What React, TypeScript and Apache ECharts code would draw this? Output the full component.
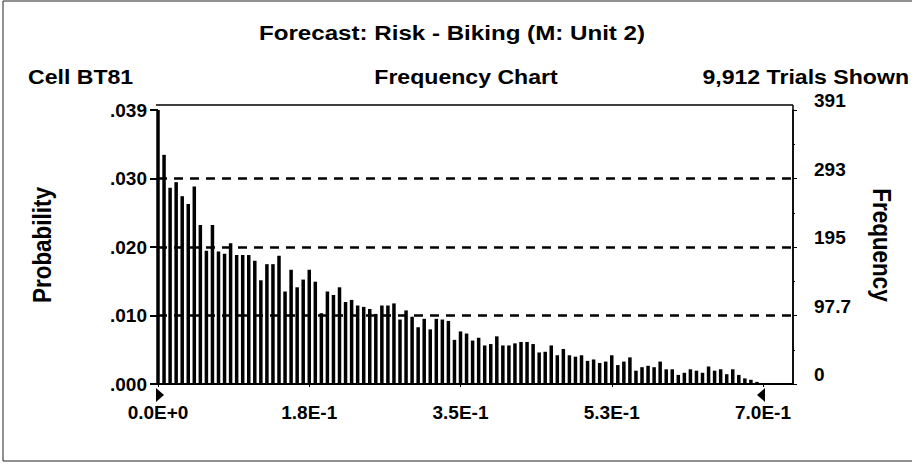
import React, { useEffect, useRef } from "react";
import * as echarts from "echarts";

// ---- data ----
const TITLE = "Forecast: Risk - Biking (M: Unit 2)";
const CELL = "Cell BT81";
const SUBTITLE = "Frequency Chart";
const TRIALS = "9,912 Trials Shown";
const LEFT_NAME = "Probability";
const RIGHT_NAME = "Frequency";

const BIN_WIDTH = 0.007; // width of each frequency bin
// frequency counts for the 100 bins, starting at 0.0
const FREQUENCIES = [
  391, 327, 280, 288, 268, 257, 282, 227, 190, 227,
  189, 186, 201, 184, 184, 184, 176, 148, 171, 171,
  183, 132, 163, 138, 149, 163, 146, 101, 132, 127,
  138, 117, 120, 112, 110, 107, 100, 112, 112, 115,
  92, 105, 96, 81, 93, 78, 93, 92, 90, 63,
  75, 72, 62, 66, 55, 57, 68, 55, 55, 58,
  60, 60, 57, 45, 46, 55, 41, 50, 41, 39,
  41, 33, 35, 30, 32, 41, 27, 32, 38, 19,
  24, 26, 24, 32, 21, 21, 13, 16, 21, 19,
  16, 25, 19, 21, 14, 21, 13, 8, 6, 3,
];

const X_TICK_LABELS = ["0.0E+0", "1.8E-1", "3.5E-1", "5.3E-1", "7.0E-1"];
const PROB_LABELS = [".000", ".010", ".020", ".030", ".039"];
const FREQ_LABELS = ["0", "97.7", "195", "293", "391"];
const Y_MAX = 391;
const X_MIN_MARK = 0;
const X_MAX_MARK = 0.7;

const FONT = "'Liberation Sans', Arial, sans-serif";

export default function App() {
  const ref = useRef<HTMLDivElement>(null);

  useEffect(() => {
    if (!ref.current) return;
    const chart = echarts.init(ref.current, undefined, { renderer: "svg" });
    const data = FREQUENCIES.map((v, i) => [i * BIN_WIDTH, v]);

    const option: any = {
      animation: false,
      backgroundColor: "#ffffff",
      grid: { left: 158, right: 119, top: 110, bottom: 83, containLabel: false },
      xAxis: {
        type: "value",
        min: 0,
        max: 0.7347,
        interval: 0.175,
        axisLine: { show: false },
        axisTick: { show: true, length: 3, inside: false, lineStyle: { color: "#000", width: 1 } },
        splitLine: { show: false },
        axisLabel: {
          showMaxLabel: false,
          margin: 19,
          color: "#000",
          fontFamily: FONT,
          fontWeight: "bold",
          fontSize: 19,
          formatter: (v: number) => {
            const idx = Math.round(v / 0.175);
            return X_TICK_LABELS[idx] ?? "";
          },
        },
      },
      yAxis: [
        {
          type: "value",
          position: "left",
          min: 0,
          max: Y_MAX,
          interval: Y_MAX / 4,
          axisLine: { show: false },
          axisTick: { show: true, length: 8, lineStyle: { color: "#000", width: 2 } },
          axisLabel: {
            margin: 11,
            color: "#000",
            fontFamily: FONT,
            fontWeight: "bold",
            fontSize: 19,
            formatter: (_v: number, i: number) => PROB_LABELS[i] ?? "",
          },
          splitLine: {
            show: true,
            showMinLine: false,
            showMaxLine: false,
            lineStyle: { color: "#000", width: 2.5, type: [9, 7] },
          },
        },
        {
          type: "value",
          position: "right",
          min: 0,
          max: Y_MAX,
          interval: Y_MAX / 4,
          axisLine: { show: true, lineStyle: { color: "#000", width: 1.5 } },
          axisTick: { show: true, length: 4, lineStyle: { color: "#000", width: 1 } },
          minorTick: { show: true, splitNumber: 2, length: 2, lineStyle: { color: "#000" } },
          axisLabel: {
            margin: 21,
            color: "#000",
            fontFamily: FONT,
            fontWeight: "bold",
            fontSize: 19,
            verticalAlign: "bottom",
            formatter: (_v: number, i: number) => FREQ_LABELS[i] ?? "",
          },
          splitLine: { show: false },
        },
      ],
      series: [
        {
          type: "bar",
          yAxisIndex: 0,
          data,
          barWidth: 3.5,
          clip: false,
          itemStyle: { color: "#000" },
        },
      ],
    };
    chart.setOption(option);

    const x0 = chart.convertToPixel({ xAxisIndex: 0 }, X_MIN_MARK) as number;
    const x1 = chart.convertToPixel({ xAxisIndex: 0 }, X_MAX_MARK) as number;
    const yBase = chart.convertToPixel({ yAxisIndex: 0 }, 0) as number;
    const plotRight = 912 - 119;
    const frameTop = 105;

    chart.setOption({
      graphic: [
        // outer border
        { type: "rect", shape: { x: 3, y: 1, width: 960, height: 460 }, style: { fill: "none", stroke: "#222", lineWidth: 1 } },
        // plot frame top & right & baseline
        { type: "line", shape: { x1: 156, y1: frameTop, x2: plotRight, y2: frameTop }, style: { stroke: "#000", lineWidth: 1.5 } },
        { type: "line", shape: { x1: plotRight, y1: frameTop, x2: plotRight, y2: yBase }, style: { stroke: "#000", lineWidth: 1.5 } },
        { type: "line", shape: { x1: 150, y1: yBase, x2: plotRight, y2: yBase }, style: { stroke: "#000", lineWidth: 2 } },
        // range markers
        { type: "polygon", shape: { points: [[x0 - 2, yBase + 4], [x0 + 6, yBase + 11], [x0 - 2, yBase + 18]] }, style: { fill: "#000" } },
        { type: "polygon", shape: { points: [[x1 + 2, yBase + 4], [x1 - 6, yBase + 11], [x1 + 2, yBase + 18]] }, style: { fill: "#000" } },
        // texts
        { type: "text", x: 452, y: 33, scaleX: 1.15, style: { text: TITLE, fill: "#000", font: `bold 21px ${FONT}`, align: "center", verticalAlign: "middle" } },
        { type: "text", x: 28, y: 77, scaleX: 1.1, style: { text: CELL, fill: "#000", font: `bold 21px ${FONT}`, align: "left", verticalAlign: "middle" } },
        { type: "text", x: 466, y: 77, scaleX: 1.1, style: { text: SUBTITLE, fill: "#000", font: `bold 21px ${FONT}`, align: "center", verticalAlign: "middle" } },
        { type: "text", x: 909, y: 77, scaleX: 1.1, style: { text: TRIALS, fill: "#000", font: `bold 21px ${FONT}`, align: "right", verticalAlign: "middle" } },
        // axis names
        { type: "text", x: 42, y: 245, rotation: Math.PI / 2, scaleX: 0.9, style: { text: LEFT_NAME, fill: "#000", font: `900 25px ${FONT}`, align: "center", verticalAlign: "middle" } },
        { type: "text", x: 882, y: 245, rotation: -Math.PI / 2, scaleX: 0.9, style: { text: RIGHT_NAME, fill: "#000", font: `900 25px ${FONT}`, align: "center", verticalAlign: "middle" } },
      ],
    });

    return () => chart.dispose();
  }, []);

  return <div ref={ref} style={{ width: 912, height: 467, position: "absolute", left: 0, top: 0 }} />;
}
